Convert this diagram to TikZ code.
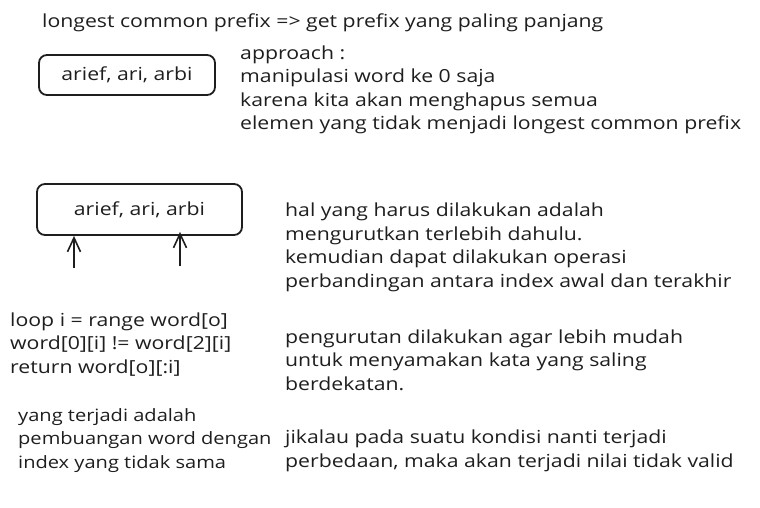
\documentclass[tikz,border=0pt]{standalone}
\usepackage{fontspec}
\setmainfont{Open Sans}[FakeStretch=1.18]
\usepackage{tikz}
\usetikzlibrary{positioning,arrows.meta,calc}
\definecolor{inkcolor}{RGB}{30,30,30}

\begin{document}
\begin{tikzpicture}[
  x=1pt, y=-1pt,
  note/.style  = {anchor=base west, inner sep=0pt, align=left,
                  font=\fontsize{18}{23.5}\selectfont, text=inkcolor},
  wordbox/.style = {rectangle, rounded corners=8pt, draw=inkcolor,
                  line width=1.8pt, inner sep=0pt,
                  font=\fontsize{18}{23.5}\selectfont, text=inkcolor},
  arr/.style   = {-{Straight Barb[length=14pt,width=13pt,line width=1.6pt]},
                  line width=1.8pt, draw=inkcolor}
]
\useasboundingbox (0,0) rectangle (760,508);

% judul
\node[note] (title) at (42,28) {longest common prefix => get prefix yang paling panjang};

% kotak pertama dan approach
\node[wordbox, minimum width=176pt, minimum height=40pt] (words-a) at (127,75)
      {arief, ari, arbi};
\node[note] (approach) at (240,130)
      {approach :\\manipulasi word ke 0 saja\\karena kita akan menghapus semua\\elemen yang tidak menjadi longest common prefix};

% kotak kedua dengan dua penunjuk index
\node[wordbox, minimum width=205pt, minimum height=51pt] (words-b) at (139.5,209.5)
      {arief, ari, arbi};
\coordinate (idx-first) at (74,268);
\coordinate (idx-last)  at (180,266);
\draw[arr] (idx-first) -- (idx-first |- words-b.south);
\draw[arr] (idx-last)  -- ($(idx-last |- words-b.south)+(0,-4)$);

\node[note] (sorting) at (285,287)
      {hal yang harus dilakukan adalah\\mengurutkan terlebih dahulu.\\kemudian dapat dilakukan operasi\\perbandingan antara index awal dan terakhir};

% pseudo code
\node[note] (loop) at (10,373)
      {loop i = range word[o]\\word[0][i] != word[2][i]\\return word[o][:i]};
\node[note] (reason) at (285,390)
      {pengurutan dilakukan agar lebih mudah\\untuk menyamakan kata yang saling\\berdekatan.};

\node[note, font=\fontsize{17}{23.5}\selectfont] (result) at (18,468)
      {yang terjadi adalah\\pembuangan word dengan\\index yang tidak sama};
\node[note] (invalid) at (285,467)
      {jikalau pada suatu kondisi nanti terjadi\\perbedaan, maka akan terjadi nilai tidak valid};
\end{tikzpicture}
\end{document}
